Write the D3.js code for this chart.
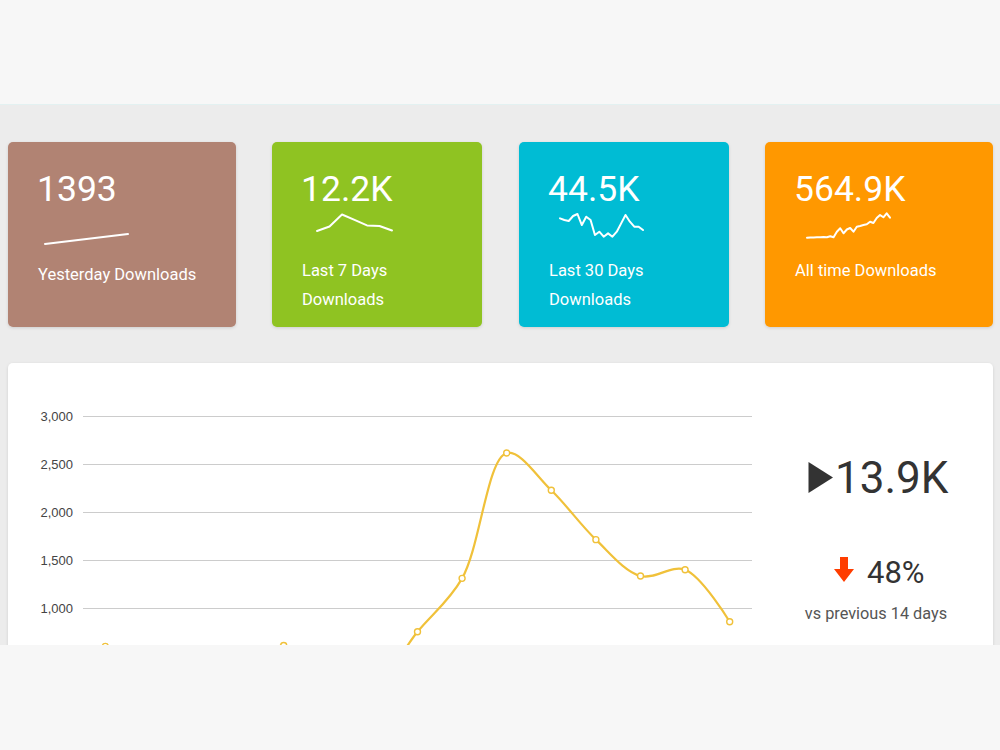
<!DOCTYPE html>
<html>
<head>
<meta charset="utf-8">
<script src="https://cdn.jsdelivr.net/npm/d3@7"></script>
<style>
  html, body { margin: 0; padding: 0; background: #f7f7f7; }
  svg { display: block; }
</style>
</head>
<body>
<svg id="chart" width="1000" height="750"></svg>
<script>
// ---------- data ----------
const cardValues = ["1393", "12.2K", "44.5K", "564.9K"];
const cardLabels = [["Yesterday Downloads"], ["Last 7 Days", "Downloads"], ["Last 30 Days", "Downloads"], ["All time Downloads"]];
const cardColors = ["#b18373", "#8fc320", "#00bcd4", "#ff9800"];

const sparkYesterday = [1220, 1393];
const sparkWeek = [1300, 1560, 2250, 1940, 1620, 1590, 1330];
const sparkMonth = [1720, 1620, 1560, 1860, 1980, 1320, 1820, 1620, 720, 920, 620, 820, 620, 920, 1420, 1920, 1520, 1220, 1220, 1020];
const sparkAllTime = [1950, 2250, 2250, 2550, 2700, 3000, 2550, 4050, 2550, 10950, 16050, 8550, 14250, 16500, 10950, 18450, 19500, 21000, 22050, 25950, 24000, 31500, 36000, 32550, 38550, 31950];

const dayLabels = ["Day 1", "Day 2", "Day 3", "Day 4", "Day 5", "Day 6", "Day 7", "Day 8", "Day 9", "Day 10", "Day 11", "Day 12", "Day 13", "Day 14", "Day 15"];
const dailyDownloads = [600, 250, 180, 260, 610, 210, 180, 753, 1309, 2615, 2226, 1712, 1333, 1399, 857];
const yTicks = [0, 500, 1000, 1500, 2000, 2500, 3000];

const totalLabel = "13.9K";
const changeLabel = "48%";
const compareLabel = "vs previous 14 days";

// ---------- layout ----------
const svg = d3.select("#chart");
const defs = svg.append("defs");
const shadow = defs.append("filter").attr("id", "shadow").attr("x", "-10%").attr("y", "-10%").attr("width", "120%").attr("height", "130%");
shadow.append("feDropShadow").attr("dx", 0).attr("dy", 1).attr("stdDeviation", 1.5).attr("flood-color", "#000").attr("flood-opacity", 0.13);

defs.append("clipPath").attr("id", "viewClip").append("rect").attr("x", 0).attr("y", 104).attr("width", 1000).attr("height", 541);

svg.append("rect").attr("width", 1000).attr("height", 750).attr("fill", "#f7f7f7");
const dash = svg.append("g").attr("clip-path", "url(#viewClip)");
dash.append("rect").attr("x", 0).attr("y", 104).attr("width", 1000).attr("height", 541).attr("fill", "#ececec");
svg.append("line").attr("x1", 0).attr("x2", 1000).attr("y1", 104.5).attr("y2", 104.5).attr("stroke", "#e3f1f1").attr("stroke-width", 1);

// cards
const cardBoxes = [
  { x: 8, w: 228 },
  { x: 272, w: 210 },
  { x: 519, w: 210 },
  { x: 765, w: 228 }
];
const sparkData = [sparkYesterday, sparkWeek, sparkMonth, sparkAllTime];
const sparkBoxes = [
  { x0: 45, x1: 128, yb: 244, yt: 234 },
  { x0: 317, x1: 392, yb: 231, yt: 214.5 },
  { x0: 560, x1: 643, yb: 236.7, yt: 214 },
  { x0: 807, x1: 890, yb: 237.7, yt: 213.3 }
];

cardBoxes.forEach((b, i) => {
  const g = dash.append("g");
  g.append("rect").attr("x", b.x).attr("y", 142).attr("width", b.w).attr("height", 185)
    .attr("rx", 5).attr("fill", cardColors[i]).attr("filter", "url(#shadow)");
  g.append("text").attr("x", b.x + 29).attr("y", 201)
    .attr("font-family", "Roboto, sans-serif").attr("font-size", 35.5).attr("fill", "#fff")
    .text(cardValues[i]);
  cardLabels[i].forEach((ln, j) => {
    g.append("text").attr("x", b.x + 30).attr("y", (i === 0 ? 280 : 276) + j * 29)
      .attr("font-family", "Roboto, sans-serif").attr("font-size", 16.5).attr("fill", "#fff")
      .text(ln);
  });
  const sb = sparkBoxes[i];
  const data = sparkData[i];
  const sx = d3.scaleLinear().domain([0, data.length - 1]).range([sb.x0, sb.x1]);
  const sy = d3.scaleLinear().domain(d3.extent(data)).range([sb.yb, sb.yt]);
  g.append("path").datum(data)
    .attr("d", d3.line().x((d, k) => sx(k)).y(d => sy(d)))
    .attr("fill", "none").attr("stroke", "#fff").attr("stroke-width", 2)
    .attr("stroke-linejoin", "round").attr("stroke-linecap", "round");
});

// chart panel
dash.append("rect").attr("x", 8).attr("y", 363).attr("width", 985).attr("height", 400)
  .attr("rx", 5).attr("fill", "#fff").attr("filter", "url(#shadow)");

const x = d3.scalePoint().domain(dayLabels).range([83, 752]).padding(0.5);
const y = d3.scaleLinear().domain([0, 3000]).range([704, 416]);

const yAxis = d3.axisLeft(y).tickValues(yTicks).tickSize(-(752 - 83)).tickPadding(10).tickFormat(d3.format(","));
const ag = dash.append("g").attr("transform", "translate(83,0)").call(yAxis);
ag.select(".domain").remove();
ag.selectAll(".tick line").attr("stroke", "#cccccc").attr("stroke-width", 1);
ag.selectAll(".tick text").attr("font-family", "Liberation Sans, Arial, sans-serif").attr("font-size", 13).attr("fill", "#444");

const lineColor = "#f0c13a";
dash.append("path").datum(dailyDownloads)
  .attr("d", d3.line().x((d, i) => x(dayLabels[i])).y(d => y(d)).curve(d3.curveCatmullRom.alpha(0.5)))
  .attr("fill", "none").attr("stroke", lineColor).attr("stroke-width", 2.2);
dash.selectAll("circle.pt").data(dailyDownloads).enter().append("circle")
  .attr("class", "pt")
  .attr("cx", (d, i) => x(dayLabels[i])).attr("cy", d => y(d)).attr("r", 3)
  .attr("fill", "#fff").attr("stroke", lineColor).attr("stroke-width", 1.4);

// right summary
const rg = dash.append("g");
rg.append("path").attr("d", "M808.5,462 L833,477.5 L808.5,493 Z").attr("fill", "#333");
rg.append("text").attr("x", 835).attr("y", 493)
  .attr("font-family", "Roboto, sans-serif").attr("font-size", 44).attr("fill", "#333")
  .text(totalLabel);
rg.append("path").attr("d", "M840,557 L848,557 L848,569 L854,569 L844,582 L834,569 L840,569 Z").attr("fill", "#ff3d00");
rg.append("text").attr("x", 867).attr("y", 583)
  .attr("font-family", "Roboto, sans-serif").attr("font-size", 31).attr("fill", "#333")
  .text(changeLabel);
rg.append("text").attr("x", 876).attr("y", 619).attr("text-anchor", "middle")
  .attr("font-family", "Roboto, sans-serif").attr("font-size", 16.3).attr("fill", "#555")
  .text(compareLabel);
</script>
</body>
</html>
